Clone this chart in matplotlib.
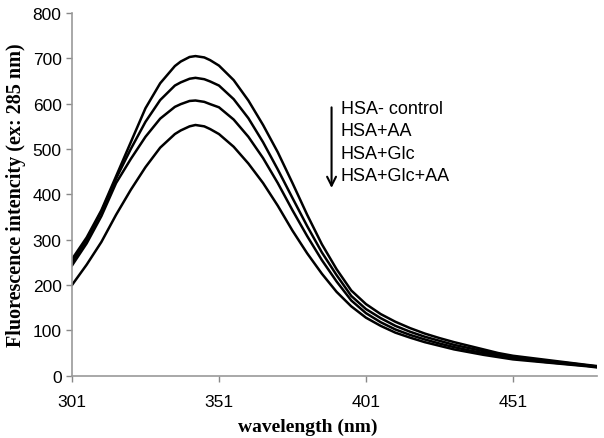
import numpy as np
import matplotlib
matplotlib.use('Agg')
import matplotlib.pyplot as plt

# wavelength grid (nm) and emission spectra
wl = [301, 306, 311, 316, 321, 326, 331, 336, 338, 341, 343, 346, 348, 351, 356, 361, 366,
      371, 376, 381, 386, 391, 396, 401, 406, 411, 416, 421, 426, 431, 436, 441,
      446, 451, 456, 461, 466, 471, 476, 480]

hsa_control = [257, 305, 365, 440, 515, 590, 645, 683, 693, 703, 705, 702, 696, 684, 652, 607, 553,
               493, 425, 355, 290, 235, 188, 158, 136, 119, 105, 93, 83, 74, 66, 58,
               50, 44, 40, 36, 32, 28, 24, 21]
hsa_aa = [250, 300, 362, 435, 500, 560, 608, 640, 647, 655, 657, 654, 649, 640, 610, 568, 515,
          455, 392, 330, 272, 222, 176, 147, 127, 110, 97, 86, 77, 68, 61, 54,
          47, 41, 37, 34, 30, 27, 23, 20]
hsa_glc = [243, 292, 352, 425, 478, 527, 567, 593, 599, 606, 607, 604, 599, 592, 565, 527, 480,
           425, 365, 308, 255, 208, 166, 138, 118, 102, 90, 80, 71, 63, 56, 50,
           44, 38, 35, 31, 28, 25, 22, 19]
hsa_glc_aa = [200, 245, 295, 355, 410, 460, 503, 533, 541, 550, 553, 550, 544, 533, 505, 468, 425,
              375, 320, 270, 225, 185, 153, 128, 110, 95, 84, 74, 66, 58, 52, 46,
              41, 36, 33, 30, 27, 24, 21, 18]

labels = ['HSA- control', 'HSA+AA', 'HSA+Glc', 'HSA+Glc+AA']
xticks = [301, 351, 401, 451]
yticks = [0, 100, 200, 300, 400, 500, 600, 700, 800]

plt.rcParams['font.family'] = ['Liberation Sans', 'DejaVu Sans']

fig = plt.figure(figsize=(6.04, 4.39), dpi=100)
ax = fig.add_axes([0.1192, 0.1419, 0.8692, 0.8262])

for s in [hsa_control, hsa_aa, hsa_glc, hsa_glc_aa]:
    ax.plot(wl, s, color='black', lw=1.8, solid_capstyle='round', solid_joinstyle='round')

ax.set_xlim(301, 479.6)
ax.set_ylim(0, 800)
ax.set_xticks(xticks)
ax.set_yticks(yticks)
ax.tick_params(colors='#888888', labelcolor='black', labelsize=12.5, length=4, width=1)
ax.tick_params(axis='x', pad=9)
for sp in ['top', 'right']:
    ax.spines[sp].set_visible(False)
for sp in ['left', 'bottom']:
    ax.spines[sp].set_color('#999999')
    ax.spines[sp].set_linewidth(1.2)

ax.set_xlabel('wavelength (nm)', family='Liberation Serif', fontweight='bold', fontsize=14)
ax.xaxis.set_label_coords(0.45, -0.115)
ax.set_ylabel('Fluorescence intencity (ex: 285 nm)', family='Liberation Serif',
              fontweight='bold', fontsize=14.5)
ax.yaxis.set_label_coords(-0.087, 0.5)

# legend: arrow with stacked labels
ax.annotate('', xy=(389.3, 408), xytext=(389.3, 598),
            arrowprops=dict(arrowstyle='->', color='black', lw=1.5,
                            mutation_scale=16))
ys = [590, 540, 491, 441]
for lab, y in zip(labels, ys):
    ax.text(392.5, y, lab, fontsize=13, va='center', ha='left')

fig.savefig('out.png', dpi=100)
